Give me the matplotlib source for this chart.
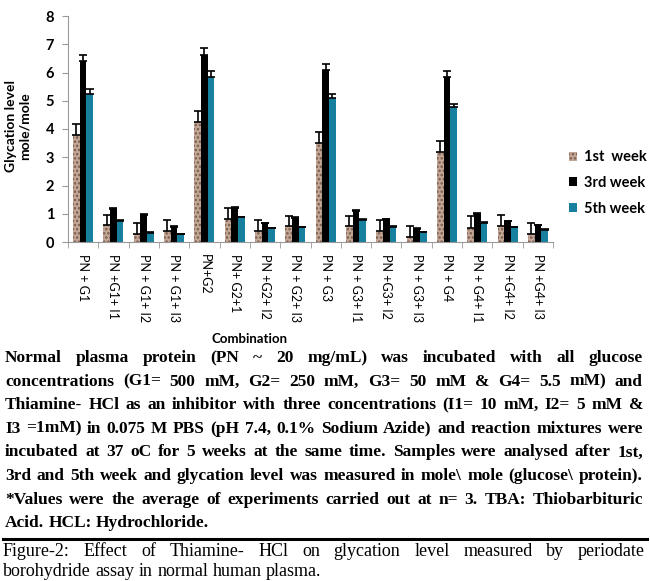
import numpy as np
import matplotlib
matplotlib.use('Agg')
import matplotlib.pyplot as plt
from matplotlib.patches import Patch

# data (mole/mole)
labels = ['PN + G1', 'PN +G1+ I1', 'PN + G1+ I2', 'PN + G1+ I3',
          'PN+G2', 'PN+ G2+1', 'PN +G2+ I2', 'PN + G2+ I3',
          'PN + G3', 'PN + G3+ I1', 'PN +G3+ I2', 'PN + G3+ I3',
          'PN + G4', 'PN + G4+ I1', 'PN +G4+ I2', 'PN +G4+ I3']
week1 = [3.79, 0.61, 0.28, 0.38, 4.25, 0.81, 0.40, 0.55,
         3.52, 0.55, 0.39, 0.18, 3.19, 0.51, 0.55, 0.29]
week3 = [6.41, 1.18, 0.97, 0.54, 6.62, 1.22, 0.67, 0.86,
         6.10, 1.10, 0.80, 0.47, 5.85, 0.99, 0.73, 0.59]
week5 = [5.23, 0.75, 0.32, 0.28, 5.85, 0.88, 0.49, 0.52,
         5.08, 0.79, 0.54, 0.34, 4.77, 0.68, 0.52, 0.44]
err1 = [0.40, 0.35, 0.38, 0.40, 0.40, 0.39, 0.37, 0.38,
        0.38, 0.38, 0.38, 0.37, 0.37, 0.40, 0.42, 0.39]
err3 = [0.20, 0.02, 0.02, 0.02, 0.24, 0.02, 0.02, 0.02,
        0.20, 0.02, 0.02, 0.02, 0.20, 0.02, 0.02, 0.02]
err5 = [0.18, 0.02, 0.02, 0.02, 0.20, 0.02, 0.02, 0.02,
        0.15, 0.02, 0.02, 0.02, 0.12, 0.02, 0.02, 0.02]

caption_bold = [
    "Normal plasma protein (PN ~ 20 mg/mL) was incubated with all glucose",
    "concentrations (G1= 500 mM, G2= 250 mM, G3= 50 mM & G4= 5.5 mM) and",
    "Thiamine- HCl as an inhibitor with three concentrations (I1= 10 mM, I2= 5 mM &",
    "I3 =1mM) in 0.075 M PBS (pH 7.4, 0.1% Sodium Azide) and reaction mixtures were",
    "incubated at 37 oC for 5 weeks at the same time. Samples were analysed after 1st,",
    "3rd and 5th week and glycation level was measured in mole\\ mole (glucose\\ protein).",
    "*Values were the average of experiments carried out at n= 3. TBA: Thiobarbituric",
    "Acid. HCL: Hydrochloride.",
]
caption_fig = [
    "Figure-2: Effect of Thiamine- HCl on glycation level measured by periodate",
    "borohydride assay in normal human plasma.",
]

W, H = 650, 581
plt.rcParams['font.family'] = 'Lato'
plt.rcParams['hatch.linewidth'] = 1.2

fig = plt.figure(figsize=(W / 100, H / 100), dpi=100)
ax = fig.add_axes([68 / W, 1 - 242 / H, (553 - 68) / W, (242 - 16) / H])

x = np.arange(len(labels))
bw = 0.22
ekw = dict(ecolor='black', elinewidth=1.2, capsize=3, capthick=1.2)
z = np.zeros(len(labels))
ax.bar(x - bw, week1, bw, color='#c3a796', edgecolor='#7a5a4c', hatch='....',
       linewidth=0, yerr=[z, err1], error_kw=ekw)
ax.bar(x, week3, bw, color='black', linewidth=0, yerr=[z, err3], error_kw=ekw)
ax.bar(x + bw, week5, bw, color='#17809f', linewidth=0, yerr=[z, err5], error_kw=ekw)

ax.set_xlim(-0.5, len(labels) - 0.5)
ax.set_ylim(0, 8)
ax.set_yticks(range(9))
ax.set_yticklabels([str(i) for i in range(9)], fontsize=10.5, fontweight='bold')
ax.set_xticks(x)
ax.set_xticklabels(labels, rotation=270, fontsize=9, va='top', ha='center')
ax.set_xticks(np.arange(-0.5, len(labels)), minor=True)
ax.tick_params(axis='x', which='major', length=0, pad=9)
ax.tick_params(axis='x', which='minor', length=4, color='#999999', direction='out')
ax.tick_params(axis='y', length=4, color='#999999', pad=6)
for s in ['top', 'right']:
    ax.spines[s].set_visible(False)
for s in ['left', 'bottom']:
    ax.spines[s].set_color('#999999')

fig.text(18 / W, 1 - 126 / H, 'Glycation level\nmole/mole', rotation=90,
         ha='center', va='center', fontsize=10, fontweight='bold', linespacing=1.1)
fig.text(249 / W, 1 - 339 / H, 'Combination', ha='center', va='center',
         fontsize=9.5, fontweight='bold')

handles = [Patch(facecolor='#c3a796', edgecolor='#7a5a4c', hatch='....', linewidth=0),
           Patch(facecolor='black'), Patch(facecolor='#17809f')]
fig.legend(handles, ['1st  week', '3rd week', '5th week'], loc='center left',
           bbox_to_anchor=(556 / W, 1 - 183 / H), frameon=False,
           prop=dict(family='Lato', weight='bold', size=10.5),
           handlelength=0.55, handleheight=0.55, handletextpad=0.5, labelspacing=0.8)

renderer = fig.canvas.get_renderer()


def put_line(text, y, x0, x1, justify, **kw):
    words = text.split()
    objs = [fig.text(0, 1 - y / H, w, va='center', ha='left', **kw) for w in words]
    widths = [o.get_window_extent(renderer).width for o in objs]
    a2 = fig.text(0, 0, 'a a', **kw)
    a1 = fig.text(0, 0, 'aa', **kw)
    sw = a2.get_window_extent(renderer).width - a1.get_window_extent(renderer).width
    a2.remove()
    a1.remove()
    if justify and len(words) > 1:
        gap = (x1 - x0 - sum(widths)) / (len(words) - 1)
    else:
        gap = sw
    pos = x0
    for o, w in zip(objs, widths):
        o.set_x(pos / W)
        pos += w + gap


bold_kw = dict(family='Liberation Serif', fontweight='bold', fontsize=12.5)
for i, line in enumerate(caption_bold):
    put_line(line, 358 + 23.6 * i, 5, 643, i < len(caption_bold) - 1, **bold_kw)

fig.add_artist(plt.Line2D([3 / W, 647 / W], [1 - 539 / H, 1 - 539 / H],
                          color='black', linewidth=2.2))

reg_kw = dict(family='Liberation Serif', fontsize=13)
for i, line in enumerate(caption_fig):
    put_line(line, 552 + 19.5 * i, 3, 645, i == 0, **reg_kw)

fig.savefig('out.png', dpi=100)
